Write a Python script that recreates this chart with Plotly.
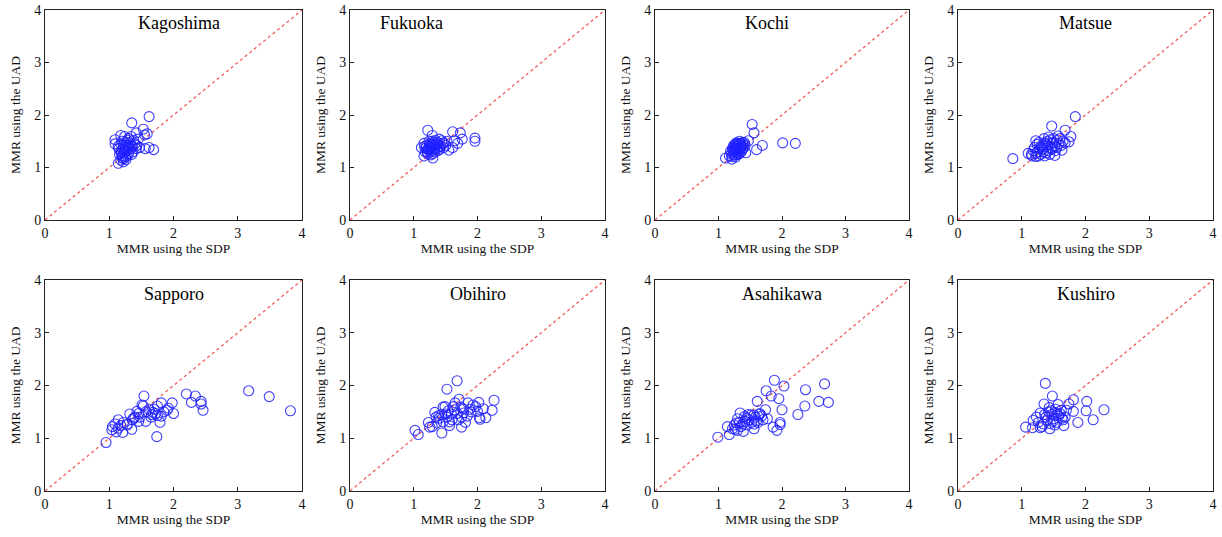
import plotly.graph_objects as go

cities = ["Kagoshima", "Fukuoka", "Kochi", "Matsue", "Sapporo", "Obihiro", "Asahikawa", "Kushiro"]
ticks = [0, 1, 2, 3, 4]
tick_labels = ["0", "1", "2", "3", "4"]
diag = [0, 4]
x_title = "MMR using the SDP"
y_title = "MMR using the UAD"

kagoshima_x = [1.62, 1.35, 1.53, 1.42, 1.59, 1.55, 1.18, 1.24, 1.34, 1.30, 1.09, 1.09, 1.45, 1.38, 1.20, 1.27, 1.14, 1.56, 1.62, 1.69, 1.42, 1.47, 1.36, 1.30, 1.25, 1.21, 1.18, 1.16, 1.20, 1.23, 1.27, 1.33, 1.37, 1.30, 1.25, 1.22, 1.18, 1.14, 1.22, 1.28, 1.35, 1.40, 1.32, 1.26, 1.22, 1.18, 1.15, 1.19, 1.26, 1.31, 1.35, 1.28, 1.43, 1.24, 1.20]
kagoshima_y = [1.97, 1.85, 1.73, 1.66, 1.64, 1.62, 1.61, 1.59, 1.59, 1.55, 1.53, 1.45, 1.54, 1.52, 1.50, 1.48, 1.40, 1.36, 1.38, 1.34, 1.36, 1.38, 1.40, 1.42, 1.38, 1.35, 1.30, 1.25, 1.22, 1.28, 1.32, 1.35, 1.30, 1.26, 1.20, 1.17, 1.14, 1.08, 1.11, 1.22, 1.25, 1.45, 1.47, 1.43, 1.40, 1.45, 1.36, 1.27, 1.15, 1.38, 1.42, 1.52, 1.42, 1.33, 1.19]

fukuoka_x = [1.22, 1.29, 1.61, 1.73, 1.76, 1.96, 1.96, 1.64, 1.69, 1.61, 1.55, 1.47, 1.44, 1.40, 1.16, 1.12, 1.16, 1.30, 1.30, 1.18, 1.22, 1.25, 1.28, 1.32, 1.35, 1.38, 1.42, 1.36, 1.30, 1.26, 1.22, 1.20, 1.24, 1.34, 1.28, 1.33, 1.38, 1.27, 1.23, 1.19, 1.31, 1.36, 1.45, 1.50, 1.41, 1.25, 1.29, 1.17, 1.21, 1.26, 1.33, 1.39, 1.47, 1.52]
fukuoka_y = [1.71, 1.61, 1.68, 1.66, 1.54, 1.56, 1.50, 1.51, 1.46, 1.38, 1.33, 1.38, 1.51, 1.54, 1.46, 1.38, 1.22, 1.18, 1.27, 1.30, 1.35, 1.40, 1.45, 1.48, 1.42, 1.45, 1.40, 1.36, 1.33, 1.30, 1.26, 1.42, 1.50, 1.52, 1.38, 1.30, 1.32, 1.24, 1.33, 1.37, 1.41, 1.48, 1.45, 1.42, 1.35, 1.45, 1.50, 1.40, 1.30, 1.36, 1.36, 1.40, 1.47, 1.50]

kochi_x = [1.53, 1.56, 2.01, 2.21, 1.69, 1.60, 1.47, 1.43, 1.11, 1.21, 1.17, 1.20, 1.23, 1.26, 1.29, 1.32, 1.35, 1.38, 1.28, 1.24, 1.22, 1.30, 1.34, 1.37, 1.40, 1.36, 1.31, 1.27, 1.24, 1.19, 1.26, 1.32, 1.29, 1.33, 1.41, 1.25, 1.27, 1.30, 1.34, 1.38, 1.42, 1.29, 1.23, 1.21, 1.35, 1.31, 1.26, 1.39, 1.33, 1.28]
kochi_y = [1.82, 1.66, 1.47, 1.46, 1.42, 1.34, 1.51, 1.28, 1.18, 1.16, 1.22, 1.26, 1.30, 1.35, 1.40, 1.43, 1.46, 1.48, 1.47, 1.42, 1.37, 1.32, 1.37, 1.41, 1.38, 1.30, 1.25, 1.20, 1.24, 1.31, 1.29, 1.36, 1.44, 1.50, 1.47, 1.38, 1.33, 1.28, 1.32, 1.35, 1.42, 1.36, 1.34, 1.21, 1.40, 1.46, 1.44, 1.44, 1.27, 1.24]

matsue_x = [1.84, 1.47, 1.68, 1.77, 1.74, 0.86, 1.63, 1.52, 1.22, 1.10, 1.22, 1.36, 1.15, 1.18, 1.25, 1.28, 1.32, 1.36, 1.40, 1.45, 1.50, 1.55, 1.60, 1.65, 1.58, 1.52, 1.46, 1.42, 1.38, 1.30, 1.26, 1.20, 1.24, 1.33, 1.40, 1.48, 1.55, 1.62, 1.68, 1.44, 1.34, 1.27, 1.35, 1.42, 1.50, 1.57, 1.30, 1.47, 1.38, 1.53, 1.16, 1.22]
matsue_y = [1.97, 1.79, 1.71, 1.59, 1.49, 1.17, 1.33, 1.23, 1.51, 1.27, 1.21, 1.22, 1.25, 1.32, 1.30, 1.37, 1.42, 1.47, 1.50, 1.53, 1.55, 1.52, 1.55, 1.50, 1.45, 1.40, 1.38, 1.32, 1.28, 1.25, 1.22, 1.38, 1.44, 1.35, 1.42, 1.46, 1.38, 1.42, 1.47, 1.25, 1.30, 1.48, 1.55, 1.58, 1.48, 1.60, 1.40, 1.35, 1.45, 1.32, 1.22, 1.27]

sapporo_x = [0.95, 1.74, 1.54, 2.20, 2.34, 2.28, 2.43, 2.43, 2.46, 3.17, 3.49, 3.82, 1.98, 2.00, 1.92, 1.81, 1.75, 1.90, 1.79, 1.81, 1.66, 1.68, 1.72, 1.57, 1.57, 1.46, 1.46, 1.43, 1.38, 1.32, 1.35, 1.28, 1.21, 1.11, 1.14, 1.05, 1.04, 1.09, 1.14, 1.28, 1.51, 1.53, 1.75, 1.40, 1.36, 1.62, 1.70, 1.85, 1.22, 1.18, 1.48, 1.65]
sapporo_y = [0.92, 1.03, 1.80, 1.84, 1.80, 1.68, 1.70, 1.65, 1.53, 1.90, 1.79, 1.52, 1.67, 1.47, 1.57, 1.67, 1.61, 1.53, 1.30, 1.42, 1.45, 1.49, 1.47, 1.50, 1.32, 1.32, 1.47, 1.51, 1.38, 1.46, 1.17, 1.25, 1.11, 1.12, 1.19, 1.22, 1.16, 1.27, 1.35, 1.27, 1.63, 1.61, 1.43, 1.40, 1.35, 1.55, 1.55, 1.50, 1.30, 1.24, 1.40, 1.40]

obihiro_x = [1.68, 1.52, 2.26, 2.23, 2.13, 2.04, 2.03, 2.09, 2.02, 2.00, 1.93, 1.85, 1.71, 1.65, 1.74, 1.84, 1.81, 1.75, 1.75, 1.68, 1.60, 1.56, 1.46, 1.44, 1.49, 1.46, 1.50, 1.39, 1.33, 1.36, 1.23, 1.29, 1.25, 1.02, 1.07, 1.56, 1.64, 1.59, 1.40, 1.44, 1.52, 1.62, 1.78, 1.90, 1.97, 1.70, 1.54, 1.35, 1.88, 1.78]
obihiro_y = [2.09, 1.93, 1.72, 1.53, 1.39, 1.36, 1.39, 1.56, 1.68, 1.51, 1.63, 1.67, 1.74, 1.67, 1.59, 1.42, 1.30, 1.21, 1.40, 1.47, 1.35, 1.24, 1.31, 1.10, 1.60, 1.59, 1.46, 1.43, 1.49, 1.29, 1.30, 1.22, 1.21, 1.15, 1.07, 1.31, 1.54, 1.46, 1.38, 1.45, 1.40, 1.60, 1.55, 1.50, 1.60, 1.35, 1.52, 1.40, 1.55, 1.48]

asahikawa_x = [1.88, 2.03, 2.67, 2.37, 2.73, 2.58, 2.36, 2.25, 1.75, 1.83, 1.95, 1.61, 2.00, 1.74, 1.97, 1.97, 1.86, 1.92, 1.77, 1.65, 1.62, 1.56, 1.51, 1.56, 1.44, 1.34, 1.30, 1.28, 1.38, 1.39, 1.26, 1.14, 1.17, 0.99, 1.60, 1.56, 1.41, 1.48, 1.52, 1.45, 1.35, 1.30, 1.22, 1.68, 1.70, 1.58, 1.42, 1.33, 1.25, 1.64, 1.47]
asahikawa_y = [2.10, 1.99, 2.03, 1.92, 1.68, 1.70, 1.61, 1.45, 1.90, 1.80, 1.75, 1.70, 1.54, 1.54, 1.30, 1.26, 1.21, 1.15, 1.37, 1.47, 1.30, 1.18, 1.44, 1.44, 1.38, 1.48, 1.37, 1.29, 1.27, 1.13, 1.17, 1.22, 1.07, 1.02, 1.33, 1.27, 1.41, 1.35, 1.30, 1.25, 1.22, 1.15, 1.18, 1.42, 1.35, 1.40, 1.32, 1.30, 1.25, 1.45, 1.45]

kushiro_x = [1.37, 1.48, 1.81, 2.02, 2.29, 2.01, 1.81, 1.74, 1.57, 1.35, 2.12, 1.88, 1.66, 1.44, 1.29, 1.17, 1.06, 1.23, 1.18, 1.29, 1.43, 1.52, 1.62, 1.50, 1.55, 1.40, 1.34, 1.68, 1.70, 1.47, 1.58, 1.45, 1.38, 1.60, 1.53, 1.42, 1.65, 1.49, 1.32, 1.26, 1.56, 1.63, 1.46, 1.36, 1.52]
kushiro_y = [2.04, 1.80, 1.73, 1.70, 1.54, 1.52, 1.51, 1.65, 1.64, 1.65, 1.35, 1.30, 1.24, 1.18, 1.20, 1.20, 1.21, 1.40, 1.34, 1.48, 1.58, 1.49, 1.53, 1.37, 1.30, 1.34, 1.27, 1.40, 1.53, 1.45, 1.42, 1.28, 1.40, 1.47, 1.55, 1.50, 1.35, 1.32, 1.22, 1.30, 1.44, 1.38, 1.52, 1.45, 1.25]

series = [
    (kagoshima_x, kagoshima_y), (fukuoka_x, fukuoka_y), (kochi_x, kochi_y), (matsue_x, matsue_y),
    (sapporo_x, sapporo_y), (obihiro_x, obihiro_y), (asahikawa_x, asahikawa_y), (kushiro_x, kushiro_y),
]

W, H = 1222, 537
col_px = [(45, 302), (350, 605), (655, 909), (958, 1213)]
row_px = [(10, 220), (280, 491)]
xtitle_standoff = [0, 3]
title_cx = [0.52, 0.24, 0.44, 0.50, 0.50, 0.50, 0.50, 0.50]
title_cy = [0.94, 0.94, 0.94, 0.94, 0.935, 0.935, 0.935, 0.935]

FONT = "Liberation Serif"
fig = go.Figure()
for i, (name, (xs, ys)) in enumerate(zip(cities, series)):
    r, c = divmod(i, 4)
    n = i + 1
    xa = "x" if n == 1 else f"x{n}"
    ya = "y" if n == 1 else f"y{n}"
    fig.add_trace(go.Scatter(x=diag, y=diag, mode="lines", xaxis=xa, yaxis=ya,
                             line=dict(color="rgba(240,60,60,0.85)", width=1.3, dash="dot"),
                             hoverinfo="skip", showlegend=False))
    fig.add_trace(go.Scatter(x=xs, y=ys, mode="markers", xaxis=xa, yaxis=ya,
                             marker=dict(symbol="circle-open", size=10, color="rgba(30,30,255,0.85)",
                                         line=dict(width=1.1)),
                             showlegend=False, name=name))
    x0, x1 = col_px[c]
    y0, y1 = row_px[r]
    axis_common = dict(range=[0, 4], tickvals=ticks, ticktext=tick_labels, showgrid=False,
                       zeroline=False, showline=True, mirror=True, linecolor="#222", linewidth=1,
                       ticks="inside", ticklen=4, tickcolor="#222", automargin=False,
                       tickfont=dict(family=FONT, size=14, color="#111"))
    fig.layout[f"xaxis{'' if n == 1 else n}"] = dict(
        axis_common, domain=[x0 / W, x1 / W], anchor=ya,
        title=dict(text=x_title, font=dict(family=FONT, size=13.5, color="#111"),
                   standoff=xtitle_standoff[r]))
    fig.layout[f"yaxis{'' if n == 1 else n}"] = dict(
        axis_common, domain=[1 - y1 / H, 1 - y0 / H], anchor=xa,
        title=dict(text=y_title, font=dict(family=FONT, size=13.5, color="#111"), standoff=10))
    fig.add_annotation(text=name, x=title_cx[i], y=title_cy[i], xref=f"{xa} domain", yref=f"{ya} domain",
                       showarrow=False, xanchor="center", yanchor="middle",
                       font=dict(family=FONT, size=18, color="#000"))

fig.update_layout(width=W, height=H, margin=dict(l=0, r=0, t=0, b=0, autoexpand=False),
                  paper_bgcolor="white", plot_bgcolor="white")
fig.write_html("out.html")
